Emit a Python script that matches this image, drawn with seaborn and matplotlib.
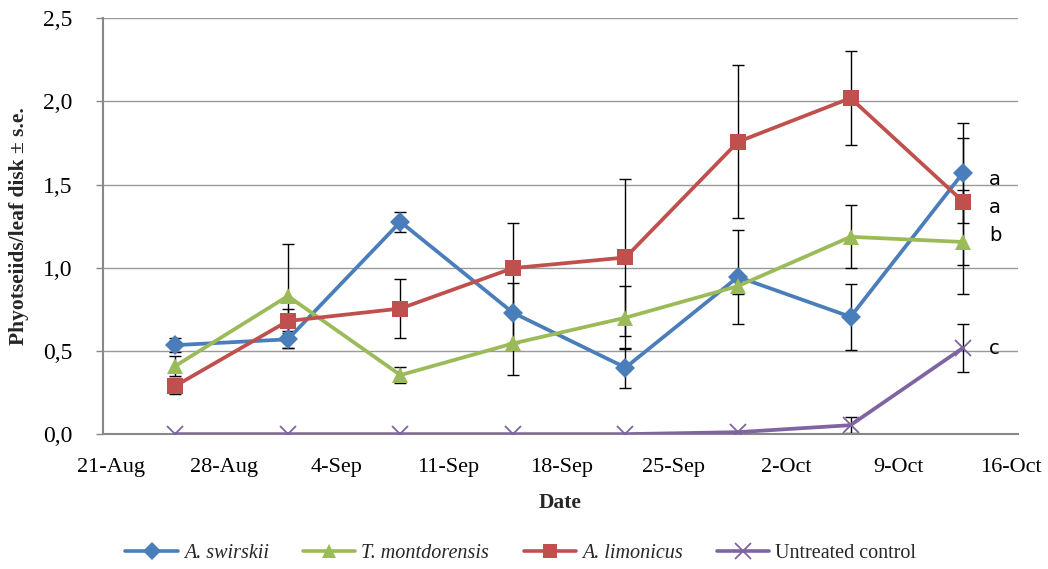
import numpy as np
import pandas as pd
import matplotlib
matplotlib.use("Agg")
import matplotlib.pyplot as plt
import matplotlib.dates as mdates
from matplotlib.ticker import FuncFormatter, MultipleLocator
import seaborn as sns

# sampling dates
dates = pd.to_datetime(["2013-08-25", "2013-09-01", "2013-09-08", "2013-09-15",
                        "2013-09-22", "2013-09-29", "2013-10-06", "2013-10-13"])

swirskii = [0.535, 0.57, 1.276, 0.73, 0.40, 0.945, 0.705, 1.571]
swirskii_se = [0.04, 0.05, 0.06, 0.18, 0.12, 0.285, 0.20, 0.30]

montdorensis = [0.41, 0.83, 0.355, 0.545, 0.70, 0.89, 1.186, 1.155]
montdorensis_se = [0.06, 0.31, 0.05, 0.19, 0.19, 0.05, 0.19, 0.31]

limonicus = [0.29, 0.68, 0.755, 0.998, 1.062, 1.757, 2.02, 1.398]
limonicus_se = [0.05, 0.07, 0.18, 0.27, 0.47, 0.46, 0.28, 0.38]

control = [0.0, 0.0, 0.0, 0.0, 0.0, 0.012, 0.054, 0.519]
control_se = [0.0, 0.0, 0.0, 0.0, 0.0, 0.0, 0.05, 0.144]

series_names = ["A. swirskii", "T. montdorensis", "A. limonicus", "Untreated control"]
colors = ["#4A7EBB", "#9BBB59", "#C0504D", "#8064A2"]
markers = ["D", "^", "s", "x"]
msizes = [10, 11.5, 11, 12]

letters = ["a", "a", "b", "c"]
letter_y = [1.53, 1.36, 1.195, 0.515]

tick_dates = pd.date_range("2013-08-21", "2013-10-16", freq="7D")

sns.set_theme(style="white")
plt.rcParams["font.family"] = ["Liberation Serif", "DejaVu Serif"]

df = pd.DataFrame({
    "date": np.tile(dates, 4),
    "value": swirskii + montdorensis + limonicus + control,
    "se": swirskii_se + montdorensis_se + limonicus_se + control_se,
    "series": np.repeat(series_names, len(dates)),
})

fig, ax = plt.subplots(figsize=(10.48, 5.69), dpi=100)
fig.subplots_adjust(left=0.0983, right=0.9714, top=0.968, bottom=0.237)

for name, c in zip(series_names, colors):
    sub = df[df["series"] == name]
    ax.errorbar(sub["date"], sub["value"], yerr=sub["se"], fmt="none",
                ecolor="black", elinewidth=1, capsize=4, capthick=1, zorder=2)

for name, c, m, ms in zip(series_names, colors, markers, msizes):
    sub = df[df["series"] == name]
    sns.lineplot(data=sub, x="date", y="value", color=c, marker=m,
                 markersize=ms, linewidth=2.7, ax=ax, zorder=3,
                 markeredgewidth=1.3 if m == "x" else 0, markeredgecolor=c,
                 label=name, legend=False)

for t, y in zip(letters, letter_y):
    ax.text(dates[-1] + pd.Timedelta(days=1.6), y, t, fontsize=14,
            family="DejaVu Sans", va="center", ha="left", color="black")

ax.set_xlim(pd.Timestamp("2013-08-20 12:00"), pd.Timestamp("2013-10-16 10:00"))
ax.set_ylim(0, 2.5)
ax.set_xticks(tick_dates)
ax.xaxis.set_major_formatter(mdates.DateFormatter("%-d-%b"))
ax.yaxis.set_major_locator(MultipleLocator(0.5))
ax.yaxis.set_major_formatter(FuncFormatter(lambda v, p: f"{v:.1f}".replace(".", ",")))
ax.tick_params(axis="x", labelsize=16, colors="black", length=0, pad=17)
ax.tick_params(axis="y", labelsize=17, labelcolor="black", length=5, width=1,
               color="#888888", direction="out", left=True, pad=17)

ax.grid(axis="y", color="#999999", linewidth=1)
ax.set_axisbelow(True)
for s in ["top", "right"]:
    ax.spines[s].set_visible(False)
for s in ["left", "bottom"]:
    ax.spines[s].set_color("#888888")
    ax.spines[s].set_linewidth(1.5)

ax.set_xlabel("Date", fontsize=15.5, fontweight="bold", labelpad=12)
ax.set_ylabel("Phyotseiids/leaf disk \u00b1 s.e.", fontsize=15.5, fontweight="bold", labelpad=10)

handles = []
for name, c, m, ms in zip(series_names, colors, markers, msizes):
    h, = ax.plot([], [], color=c, marker=m, markersize=ms - 1, linewidth=2.6,
                 markeredgewidth=1.3 if m == "x" else 0, markeredgecolor=c)
    handles.append(h)
leg = fig.legend(handles, series_names, loc="center", bbox_to_anchor=(0.497, 0.027),
                 ncol=4, frameon=False, fontsize=14.5, handlelength=2.6,
                 columnspacing=1.7, handletextpad=0.3)
for t in leg.get_texts()[:3]:
    t.set_style("italic")

fig.savefig("out.png", dpi=100)
